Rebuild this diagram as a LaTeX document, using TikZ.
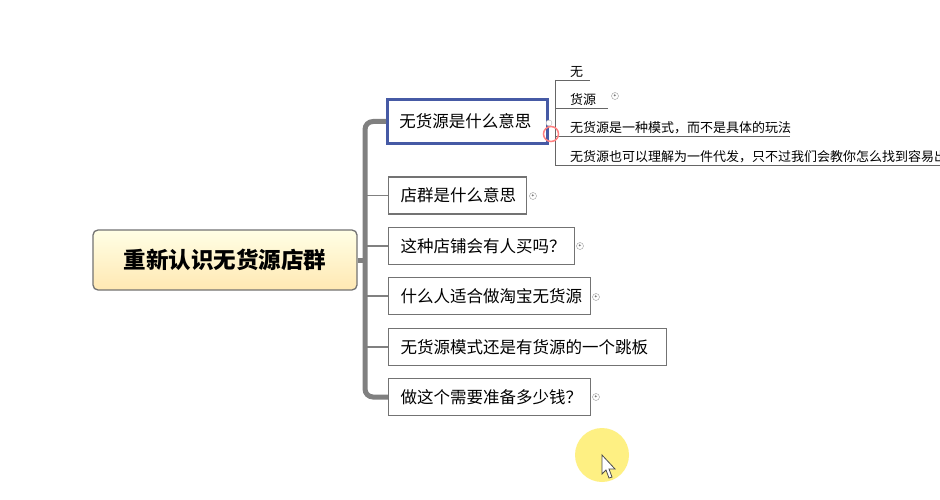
\documentclass[tikz,border=0pt]{standalone}
\usepackage{fontspec}
\setmainfont{Noto Sans CJK SC}
\begin{document}
\begin{tikzpicture}[x=1pt,y=-1pt,
  br/.style={draw=black!55,line width=1.2pt,fill=white,anchor=west,minimum height=37pt,inner xsep=12pt,align=left,font=\fontsize{16.5}{18}\selectfont},
  plus/.style={circle,draw=black!40,inner sep=0pt,minimum size=7pt,font=\fontsize{5}{5}\selectfont},
  sub/.style={anchor=south west,inner sep=2pt,font=\fontsize{13}{14}\selectfont},
  trunk/.style={draw=black!50,line width=5pt},
  twig/.style={draw=black!50,line width=1.5pt},
  ul/.style={draw=black!60,line width=0.6pt}]
\useasboundingbox (0,0) rectangle (940,500);
\clip (0,0) rectangle (940,500);
\fill[white] (0,0) rectangle (940,500);
\node[draw=black!55,line width=1.3pt,rounded corners=5pt,top color=yellow!10,bottom color=yellow!40!orange!30,minimum width=264pt,minimum height=60pt,font=\bfseries\fontsize{22.5}{24}\selectfont] (c) at (225,260) {重新认识无货源店群};
\node[br,draw={rgb,255:red,70;green,90;blue,165},line width=2.5pt,minimum height=44pt,text width=136pt] (b1) at (386,121.5) {无货源是什么意思};
\node[br,text width=114pt] (b2) at (388,195.5) {店群是什么意思};
\node[br,text width=162pt] (b3) at (388,246) {这种店铺会有人买吗？};
\node[br,text width=178pt] (b4) at (388,296) {什么人适合做淘宝无货源};
\node[br,text width=254pt] (b5) at (388,347) {无货源模式还是有货源的一个跳板};
\node[br,text width=178pt] (b6) at (388,397) {做这个需要准备多少钱？};
\draw[trunk] (c.east) -- (365,260);
\draw[trunk,rounded corners=8pt] (b1.west) -- (365,121.5) -- (365,397) -- (b6.west);
\foreach \b/\y in {b2/195.5,b3/246,b4/296,b5/347}{\draw[twig] (365,\y) -- (\b.west);}
\node[plus] (p2) at (533,196) {+};
\node[plus] (p3) at (580,246) {+};
\node[plus] (p4) at (596,297) {+};
\node[plus] (p6) at (596,397) {+};
% sub items
\coordinate (s0) at (555,80);
\coordinate (s3) at (555,165);
\draw[ul] (s0) -- (s3);
\node[sub] (u1) at (568,80) {无};
\node[sub] (u2) at (568,108) {货源};
\node[sub] (u3) at (568,136) {无货源是一种模式，而不是具体的玩法};
\node[sub] (u4) at (568,165) {无货源也可以理解为一件代发，只不过我们会教你怎么找到容易出单的};
\draw[ul] (555,80) -- (590,80);
\draw[ul] (555,108) -- (608,108);
\draw[ul] (555,136) -- (790,136);
\draw[ul] (555,165) -- (945,165);
\node[plus] (p7) at (615,96) {+};
\node[circle,draw=black!30,fill=white,minimum size=6pt,inner sep=0pt] (k) at (549,123) {};
\node[circle,draw=red!50,line width=1.5pt,minimum size=15pt,inner sep=0pt] (r) at (551,134) {};
% cursor
\fill[yellow!85!orange!60,opacity=0.8] (602,455) circle (27);
\draw[black!70,fill=white,line width=0.8pt] (602,455) -- (602,474) -- (606,470) -- (609,478) -- (612,477) -- (609,469) -- (615,469) -- cycle;
\end{tikzpicture}
\end{document}
